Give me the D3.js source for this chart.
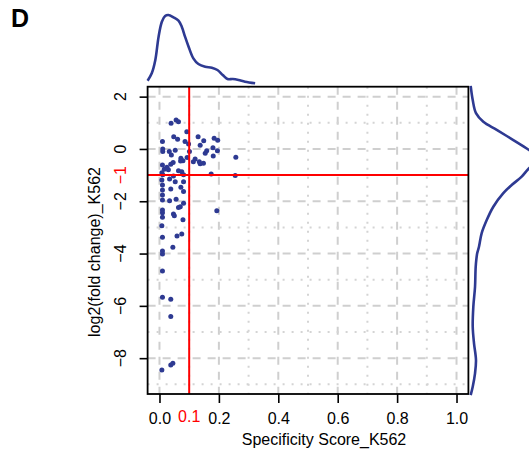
<!DOCTYPE html>
<html>
<head>
<meta charset="utf-8">
<script src="https://cdn.jsdelivr.net/npm/d3@7/dist/d3.min.js"></script>
<style>
  html, body { margin: 0; padding: 0; background: #ffffff; }
  svg { display: block; font-family: "Liberation Sans", Arial, sans-serif; }
</style>
</head>
<body>
<svg id="chart" width="529" height="457"></svg>
<script>
// Specificity score vs. log2 fold change in K562, with marginal densities
const specificity = [
  0.039, 0.056, 0.064, 0.092, 0.010, 0.048, 0.061, 0.086, 0.130, 0.149,
  0.184, 0.196, 0.180, 0.137, 0.098, 0.011, 0.011, 0.033, 0.053, 0.101,
  0.159, 0.154, 0.195, 0.181, 0.257, 0.040, 0.072, 0.079, 0.071, 0.093,
  0.120, 0.114, 0.134, 0.137, 0.148, 0.046, 0.038, 0.010, 0.025, 0.016,
  0.008, 0.030, 0.064, 0.075, 0.174, 0.255, 0.011, 0.047, 0.081, 0.008,
  0.034, 0.053, 0.081, 0.010, 0.038, 0.072, 0.081, 0.010, 0.010, 0.056,
  0.034, 0.010, 0.081, 0.070, 0.064, 0.010, 0.010, 0.047, 0.050, 0.193,
  0.010, 0.079, 0.008, 0.075, 0.059, 0.010, 0.045, 0.010, 0.010, 0.010,
  0.010, 0.038, 0.038, 0.008, 0.038, 0.045
];
const log2FC = [
   0.98,  1.11,  1.04,  0.66,  0.28,  0.47,  0.37,  0.28,  0.47,  0.31,
   0.41,  0.33,  0.05,  0.14,  0.19,  0.00, -0.10, -0.10, -0.05, -0.10,
  -0.07, -0.16, -0.07, -0.27, -0.32, -0.23, -0.36, -0.45, -0.46, -0.33,
  -0.38, -0.49, -0.49, -0.57, -0.55, -0.52, -0.59, -0.61, -0.70, -0.78,
  -0.91, -0.80, -0.83, -0.87, -0.96, -1.02, -0.99, -1.03, -0.99, -1.19,
  -1.15, -1.25, -1.25, -1.38, -1.53, -1.46, -1.63, -1.57, -1.76, -1.92,
  -1.98, -1.95, -2.08, -2.21, -2.24, -2.33, -2.44, -2.49, -2.55, -2.36,
  -2.61, -2.71, -2.94, -3.25, -3.33, -3.38, -3.76, -3.90, -4.02, -4.67,
  -5.67, -5.75, -6.41, -8.45, -8.26, -8.19
];

// Marginal density of the specificity score (relative to its peak)
const topDensX = [-0.040, -0.026, -0.014, -0.003, 0.008, 0.019, 0.030, 0.047, 0.064, 0.075,
                  0.086, 0.098, 0.114, 0.131, 0.154, 0.176, 0.195, 0.213, 0.229, 0.247,
                  0.266, 0.288, 0.322];
const topDensY = [0.048, 0.155, 0.348, 0.686, 0.903, 0.986, 1.000, 0.967, 0.917, 0.830,
                  0.686, 0.541, 0.372, 0.290, 0.251, 0.236, 0.203, 0.130, 0.072, 0.072,
                  0.058, 0.033, 0.010];

// Marginal density of log2 fold change (relative to its peak)
const rightDensY = [2.41, 1.87, 1.37, 1.04, 0.73, 0.34, -0.04, -0.25, -0.40, -0.55,
                    -0.74, -1.06, -1.38, -1.69, -2.21, -2.72, -3.22, -3.74, -4.00, -4.50,
                    -5.27, -6.03, -6.80, -7.43, -8.07, -8.58, -9.09, -9.41];
const rightDensX = [0.010, 0.040, 0.088, 0.196, 0.393, 0.637, 0.868, 0.975, 1.000, 0.965,
                    0.868, 0.760, 0.613, 0.490, 0.343, 0.246, 0.172, 0.132, 0.105, 0.084,
                    0.074, 0.049, 0.040, 0.059, 0.088, 0.074, 0.040, 0.010];

// Axis ticks, grid lines and cut-offs
const xTicks = [0.0, 0.2, 0.4, 0.6, 0.8, 1.0];
const xTickLabels = ["0.0", "0.2", "0.4", "0.6", "0.8", "1.0"];
const xMinorGrid = [0.1, 0.3, 0.5, 0.7, 0.9];
const yTicks = [2, 0, -2, -4, -6, -8];
const yTickLabels = ["2", "0", "\u22122", "\u22124", "\u22126", "\u22128"];
const yMinorGrid = [1, -1, -3, -5, -7, -9];
const xCut = 0.1, xCutLabel = "0.1";
const yCut = -1, yCutLabel = "\u22121";

const svg = d3.select("#chart");
const ptColor = "#2e3a92";
const red = "#ff0000";

const box = { left: 147.6, right: 468.4, top: 86.7, bottom: 394 };
const x = d3.scaleLinear().domain([-0.04, 1.04]).range([box.left, box.right]);
const y = d3.scaleLinear().domain([-9.37, 2.38]).range([box.bottom, box.top]);

// grid
const grid = svg.append("g");
grid.selectAll(".gxd").data(xTicks).join("line")
  .attr("x1", d => x(d)).attr("x2", d => x(d))
  .attr("y1", box.top).attr("y2", box.bottom)
  .attr("stroke", "#cfcfcf").attr("stroke-width", 2).attr("stroke-dasharray", "8,7");
grid.selectAll(".gyd").data(yTicks).join("line")
  .attr("x1", box.left).attr("x2", box.right)
  .attr("y1", d => y(d)).attr("y2", d => y(d))
  .attr("stroke", "#cfcfcf").attr("stroke-width", 2).attr("stroke-dasharray", "8,7");
grid.selectAll(".gxm").data(xMinorGrid).join("line")
  .attr("x1", d => x(d)).attr("x2", d => x(d))
  .attr("y1", box.top).attr("y2", box.bottom)
  .attr("stroke", "#d4d4d4").attr("stroke-width", 2).attr("stroke-dasharray", "2,7");
grid.selectAll(".gym").data(yMinorGrid).join("line")
  .attr("x1", box.left).attr("x2", box.right)
  .attr("y1", d => y(d)).attr("y2", d => y(d))
  .attr("stroke", "#d4d4d4").attr("stroke-width", 2).attr("stroke-dasharray", "2,7");

// points
svg.append("g").selectAll("circle")
  .data(d3.range(specificity.length))
  .join("circle")
  .attr("cx", i => x(specificity[i]))
  .attr("cy", i => y(log2FC[i]))
  .attr("r", 2.5)
  .attr("fill", ptColor);

// cut-off lines
svg.append("line")
  .attr("x1", x(xCut)).attr("x2", x(xCut))
  .attr("y1", box.top).attr("y2", box.bottom)
  .attr("stroke", red).attr("stroke-width", 2);
svg.append("line")
  .attr("x1", box.left).attr("x2", box.right)
  .attr("y1", y(yCut)).attr("y2", y(yCut))
  .attr("stroke", red).attr("stroke-width", 2);

// frame
svg.append("rect")
  .attr("x", box.left).attr("y", box.top)
  .attr("width", box.right - box.left).attr("height", box.bottom - box.top)
  .attr("fill", "none").attr("stroke", "#000").attr("stroke-width", 1.8);

// x axis
const xAxis = d3.axisBottom(x).tickValues(xTicks)
  .tickFormat((d, i) => xTickLabels[i]).tickSize(9).tickSizeOuter(0).tickPadding(10);
const gx = svg.append("g").attr("transform", `translate(0,${box.bottom})`).call(xAxis);
gx.select(".domain").remove();
gx.selectAll(".tick line").attr("stroke", "#000").attr("stroke-width", 1.6);
gx.selectAll(".tick text").attr("font-size", 16).attr("fill", "#000")
  .attr("font-family", "Liberation Sans, Arial, sans-serif");
gx.append("text")
  .attr("x", x(xCut)).attr("y", 28.3)
  .attr("text-anchor", "middle").attr("font-size", 16).attr("fill", red)
  .attr("font-family", "Liberation Sans, Arial, sans-serif")
  .text(xCutLabel);

// y axis with rotated labels
const yAxis = d3.axisLeft(y).tickValues(yTicks).tickFormat("").tickSize(8).tickSizeOuter(0);
const gy = svg.append("g").attr("transform", `translate(${box.left},0)`).call(yAxis);
gy.select(".domain").remove();
gy.selectAll(".tick line").attr("stroke", "#000").attr("stroke-width", 1.6);
const yLabelX = 125.5;
svg.append("g").selectAll("text")
  .data(yTicks.map((v, i) => ({ v, label: yTickLabels[i], color: "#000" }))
    .concat([{ v: yCut, label: yCutLabel, color: red }]))
  .join("text")
  .attr("transform", d => `translate(${yLabelX},${y(d.v)}) rotate(-90)`)
  .attr("text-anchor", "middle").attr("font-size", 16)
  .attr("fill", d => d.color)
  .text(d => d.label);

// axis titles
svg.append("text")
  .attr("x", 324).attr("y", 445)
  .attr("text-anchor", "middle").attr("font-size", 16).attr("fill", "#000")
  .text("Specificity Score_K562");
svg.append("text")
  .attr("transform", "translate(100,252) rotate(-90)")
  .attr("text-anchor", "middle").attr("font-size", 16).attr("fill", "#000")
  .text("log2(fold change)_K562");

// panel letter
svg.append("text")
  .attr("x", 11).attr("y", 27)
  .attr("font-size", 25).attr("font-weight", "bold").attr("fill", "#000")
  .text("D");

// top marginal density
const hTop = d3.scaleLinear().domain([0, 1]).range([84, 15]);
svg.append("path")
  .datum(d3.range(topDensX.length))
  .attr("d", d3.line().x(i => x(topDensX[i])).y(i => hTop(topDensY[i])).curve(d3.curveCatmullRom))
  .attr("fill", "none").attr("stroke", ptColor).attr("stroke-width", 2.6)
  .attr("stroke-linejoin", "round");

// right marginal density
const wRight = d3.scaleLinear().domain([0, 1]).range([470, 538]);
svg.append("path")
  .datum(d3.range(rightDensY.length))
  .attr("d", d3.line().x(i => wRight(rightDensX[i])).y(i => y(rightDensY[i])).curve(d3.curveCatmullRom))
  .attr("fill", "none").attr("stroke", ptColor).attr("stroke-width", 2.6)
  .attr("stroke-linejoin", "round");
</script>
</body>
</html>
